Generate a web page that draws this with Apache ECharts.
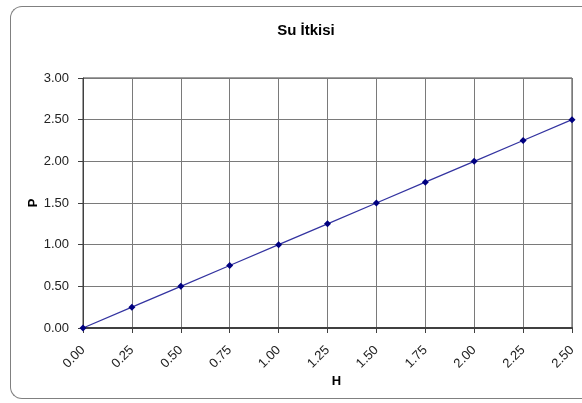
<!DOCTYPE html>
<html>
<head>
<meta charset="utf-8">
<script src="https://cdn.jsdelivr.net/npm/echarts@6/dist/echarts.min.js"></script>
<style>
html,body{margin:0;padding:0;background:#fff;overflow:hidden;}
#wrap{position:relative;width:582px;height:403px;overflow:hidden;}
#frame{position:absolute;left:10px;top:6px;width:640px;height:393px;border:1px solid #808080;border-right:none;border-radius:12px 0 0 12px;box-sizing:border-box;}
#c{position:absolute;left:0;top:0;width:582px;height:403px;}
</style>
</head>
<body>
<div id="wrap"><div id="frame"></div><div id="c"></div></div>
<script>
const H = [0, 0.25, 0.5, 0.75, 1.0, 1.25, 1.5, 1.75, 2.0, 2.25, 2.5];
const P = [0, 0.25, 0.5, 0.75, 1.0, 1.25, 1.5, 1.75, 2.0, 2.25, 2.5];
const titleText = 'Su İtkisi';
const xName = 'H';
const yName = 'P';

const chart = echarts.init(document.getElementById('c'));
chart.setOption({
  animation: false,
  backgroundColor: 'transparent',
  title: {
    text: titleText, left: 301, top: 18, textAlign: 'center',
    textStyle: { fontFamily: 'Liberation Sans, Arial', fontSize: 15, fontWeight: 'bold', color: '#000' }
  },
  grid: { left: 83, right: 10, top: 78, bottom: 75, show: true, borderColor: '#404040', borderWidth: 1 },
  xAxis: {
    type: 'value', min: 0, max: 2.5, interval: 0.25,
    name: xName, nameLocation: 'middle', nameGap: 47, nameMoveOverlap: false,
    nameTextStyle: { fontFamily: 'Liberation Sans, Arial', fontSize: 13, fontWeight: 'bold', color: '#000', padding: [0, 0, 0, 18] },
    axisLine: { show: true, lineStyle: { color: '#404040', width: 2 } },
    axisTick: { show: true, length: 5, lineStyle: { color: '#404040' } },
    axisLabel: { rotate: 45, margin: 20, fontFamily: 'Liberation Sans, Arial', fontSize: 13, color: '#222', formatter: v => v.toFixed(2) },
    splitLine: { show: true, lineStyle: { color: '#7a7a7a', width: 1 } }
  },
  yAxis: {
    type: 'value', min: 0, max: 3, interval: 0.5,
    name: yName, nameLocation: 'middle', nameGap: 43, nameMoveOverlap: false,
    nameTextStyle: { fontFamily: 'Liberation Sans, Arial', fontSize: 13, fontWeight: 'bold', color: '#000' },
    axisLine: { show: true, lineStyle: { color: '#404040', width: 1 } },
    axisTick: { show: true, length: 5, lineStyle: { color: '#404040' } },
    axisLabel: { margin: 14, fontFamily: 'Liberation Sans, Arial', fontSize: 13, color: '#222', formatter: v => v.toFixed(2) },
    splitLine: { show: true, lineStyle: { color: '#7a7a7a', width: 1 } }
  },
  series: [{
    type: 'line',
    data: H.map((h, i) => [h, P[i]]),
    symbol: 'diamond', symbolSize: 7,
    lineStyle: { color: '#3333a0', width: 1.2 },
    itemStyle: { color: '#000080' },
    clip: false
  }]
});
</script>
</body>
</html>
